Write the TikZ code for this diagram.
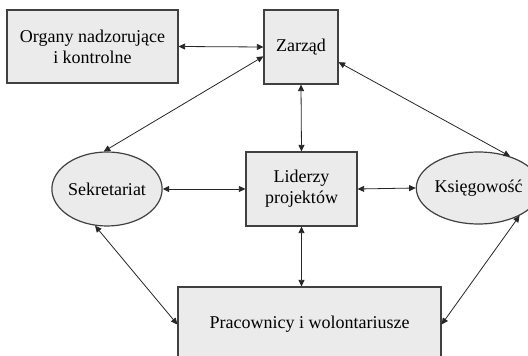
\documentclass[tikz,border=0pt]{standalone}
\usepackage{fontspec}
\setmainfont{Liberation Serif}
\usetikzlibrary{arrows.meta,shapes.geometric}
\definecolor{boxfill}{HTML}{EBEBEB}
\definecolor{boxline}{HTML}{404040}
\tikzset{
  x=1pt,y=1pt,
  unit/.style={draw=boxline,line width=1.2pt,fill=boxfill,align=center,inner sep=0pt,
    font=\fontsize{18}{21}\selectfont},
  boxunit/.style={unit,rectangle},
  ellunit/.style={unit,ellipse},
  tip/.tip={Triangle[length=6.5pt,width=6pt]},
  link/.style={line width=0.8pt,draw=black!85,tip-tip}
}
\begin{document}
\begin{tikzpicture}
\useasboundingbox (0,0) rectangle (528,356);
\node[boxunit,minimum width=171pt,minimum height=73pt] (org) at (92.5,309.5) {Organy nadzorujące\\i kontrolne};
\node[boxunit,minimum width=74pt,minimum height=74pt] (zar) at (301,309) {Zarząd};
\node[ellunit,minimum width=105pt,minimum height=74pt] (sek) at (107,167) {Sekretariat};
\node[boxunit,minimum width=111pt,minimum height=74pt] (lid) at (301.5,167) {Liderzy\\projektów};
\node[ellunit,minimum width=97pt,minimum height=72pt] (ksi) at (478.5,168) {Księgowość};
\node[boxunit,minimum width=263pt,minimum height=75pt] (pra) at (309.5,31.5) {Pracownicy i wolontariusze};
\draw[link] (org.east) -- (zar.west);
\draw[link] (zar.194) -- (sek.95);
\draw[link] (zar.-22) -- (ksi.45);
\draw[link] (zar.south) -- (lid.north);
\draw[link] (sek.east) -- (lid.west);
\draw[link] (lid.east) -- (ksi.west);
\draw[link] (lid.south) -- (lid.south |- pra.north);
\draw[link] (sek.252) -- (pra.west);
\draw[link] (ksi.-34) -- (pra.east);
\end{tikzpicture}
\end{document}
